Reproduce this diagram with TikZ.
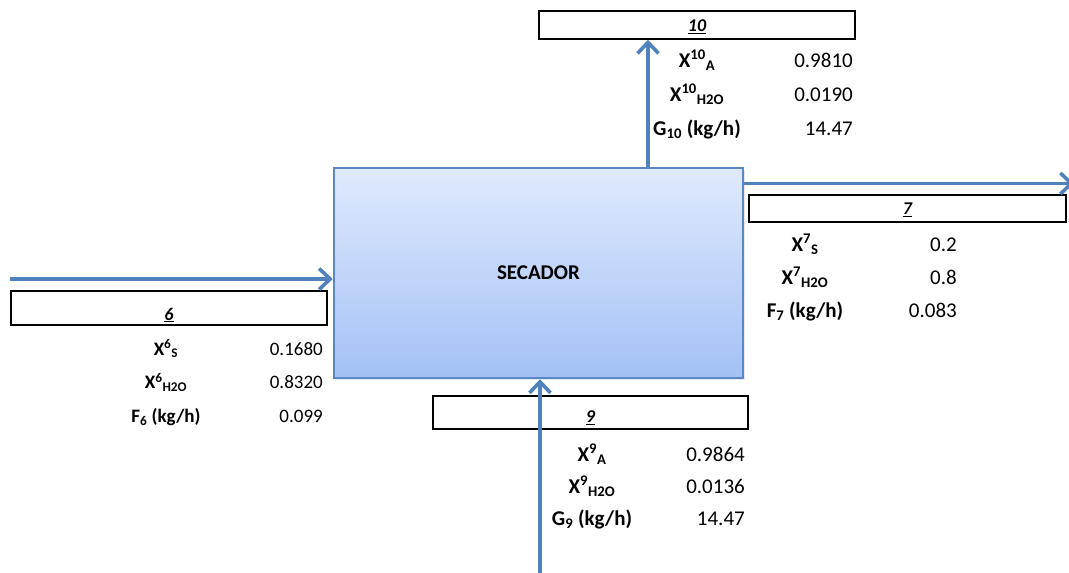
\documentclass[tikz,border=0pt]{standalone}
\usepackage{fontspec}
\setmainfont{Carlito}
\usetikzlibrary{arrows.meta,shadows}
\definecolor{flow}{HTML}{4F81BD}
\definecolor{unitedge}{HTML}{5A88C4}
\definecolor{unittop}{HTML}{E0EAFD}
\definecolor{unitbottom}{HTML}{A3C1F6}

\tikzset{
  unit/.style={draw=unitedge,line width=2.5pt,top color=unittop,bottom color=unitbottom,
    minimum width=409pt,minimum height=210pt,inner sep=0pt,
    drop shadow={opacity=.18,shadow xshift=2pt,shadow yshift=-2pt},
    font=\bfseries\fontsize{21}{25}\selectfont},
  tag/.style={draw=black,line width=1.6pt,fill=white,minimum width=316pt,inner sep=0pt},
  tagnum/.style={inner sep=0pt,font=\bfseries\itshape\fontsize{18}{21}\selectfont},
  flowline/.style={draw=flow,line width=3.6pt,-{Straight Barb[length=11pt,width=21pt]}},
  lbl/.style={anchor=base,inner sep=0pt,font=\bfseries\fontsize{21}{25}\selectfont},
  val/.style={anchor=base east,inner sep=0pt,font=\fontsize{21}{25}\selectfont},
  lblsmall/.style={lbl,font=\bfseries\fontsize{19}{22}\selectfont},
  valsmall/.style={val,font=\fontsize{19}{22}\selectfont},
}

\begin{document}
\begin{tikzpicture}[x=1pt,y=-1pt]
  \useasboundingbox (0,0) rectangle (1069,573);

  % Dryer and the stream tags.
  \node[unit] (secador) at (538.5,273) {SECADOR};
  \node[tag,minimum height=28pt] (t10) at (697,25) {};
  \node[tag,minimum height=27pt,minimum width=317pt] (t7) at (907.5,208.5) {};
  \node[tag,minimum height=34pt] (t6) at (169,308) {};
  \node[tag,minimum height=33pt,minimum width=315pt] (t9) at (590.5,412.5) {};
  \node[tagnum] (n10) at ([yshift=-2pt]t10.center) {\underline{10}};
  \node[tagnum] (n7) at ([yshift=-1pt]t7.center) {\underline{7}};
  \node[tagnum] (n6) at ([yshift=-7pt]t6.center) {\underline{6}};
  \node[tagnum] (n9) at ([yshift=-5pt]t9.center) {\underline{9}};

  % Streams in and out.
  \coordinate (src6) at (10,279);
  \coordinate (src9) at (540,573);
  \coordinate (up10) at (648,0);
  \coordinate (sink7) at (1074,183.5);
  \draw[flowline] (src6) -- (src6 -| secador.west);
  \draw[flowline] (src9) -- (src9 |- secador.south);
  \draw[flowline] (up10 |- secador.north) -- (up10 |- t10.south);
  \draw[flowline] (sink7 -| secador.east) -- (sink7);

  % Stream 10 data.
  \foreach \lab/\num [count=\i] in {{X\textsuperscript{10}\textsubscript{A}}/0.9810,
      {X\textsuperscript{10}\textsubscript{H2O}}/0.0190,
      {G\textsubscript{10} (kg/h)}/14.47} {
    \node[lbl] (l10-\i) at (697,33+\i*34) {\lab};
    \node[val] (v10-\i) at (853,33+\i*34) {\num};
  }

  % Stream 7 data.
  \foreach \lab/\num [count=\i] in {{X\textsuperscript{7}\textsubscript{S}}/0.2,
      {X\textsuperscript{7}\textsubscript{H2O}}/0.8,
      {F\textsubscript{7} (kg/h)}/0.083} {
    \node[lbl] (l7-\i) at (805,218+\i*33) {\lab};
    \node[val] (v7-\i) at (957,218+\i*33) {\num};
  }

  % Stream 6 data.
  \foreach \lab/\num [count=\i] in {{X\textsuperscript{6}\textsubscript{S}}/0.1680,
      {X\textsuperscript{6}\textsubscript{H2O}}/0.8320,
      {F\textsubscript{6} (kg/h)}/0.099} {
    \node[lblsmall] (l6-\i) at (166,321.5+\i*33.5) {\lab};
    \node[valsmall] (v6-\i) at (323,321.5+\i*33.5) {\num};
  }

  % Stream 9 data.
  \foreach \lab/\num [count=\i] in {{X\textsuperscript{9}\textsubscript{A}}/0.9864,
      {X\textsuperscript{9}\textsubscript{H2O}}/0.0136,
      {G\textsubscript{9} (kg/h)}/14.47} {
    \node[lbl] (l9-\i) at (592,429+\i*32) {\lab};
    \node[val] (v9-\i) at (745,429+\i*32) {\num};
  }
\end{tikzpicture}
\end{document}
